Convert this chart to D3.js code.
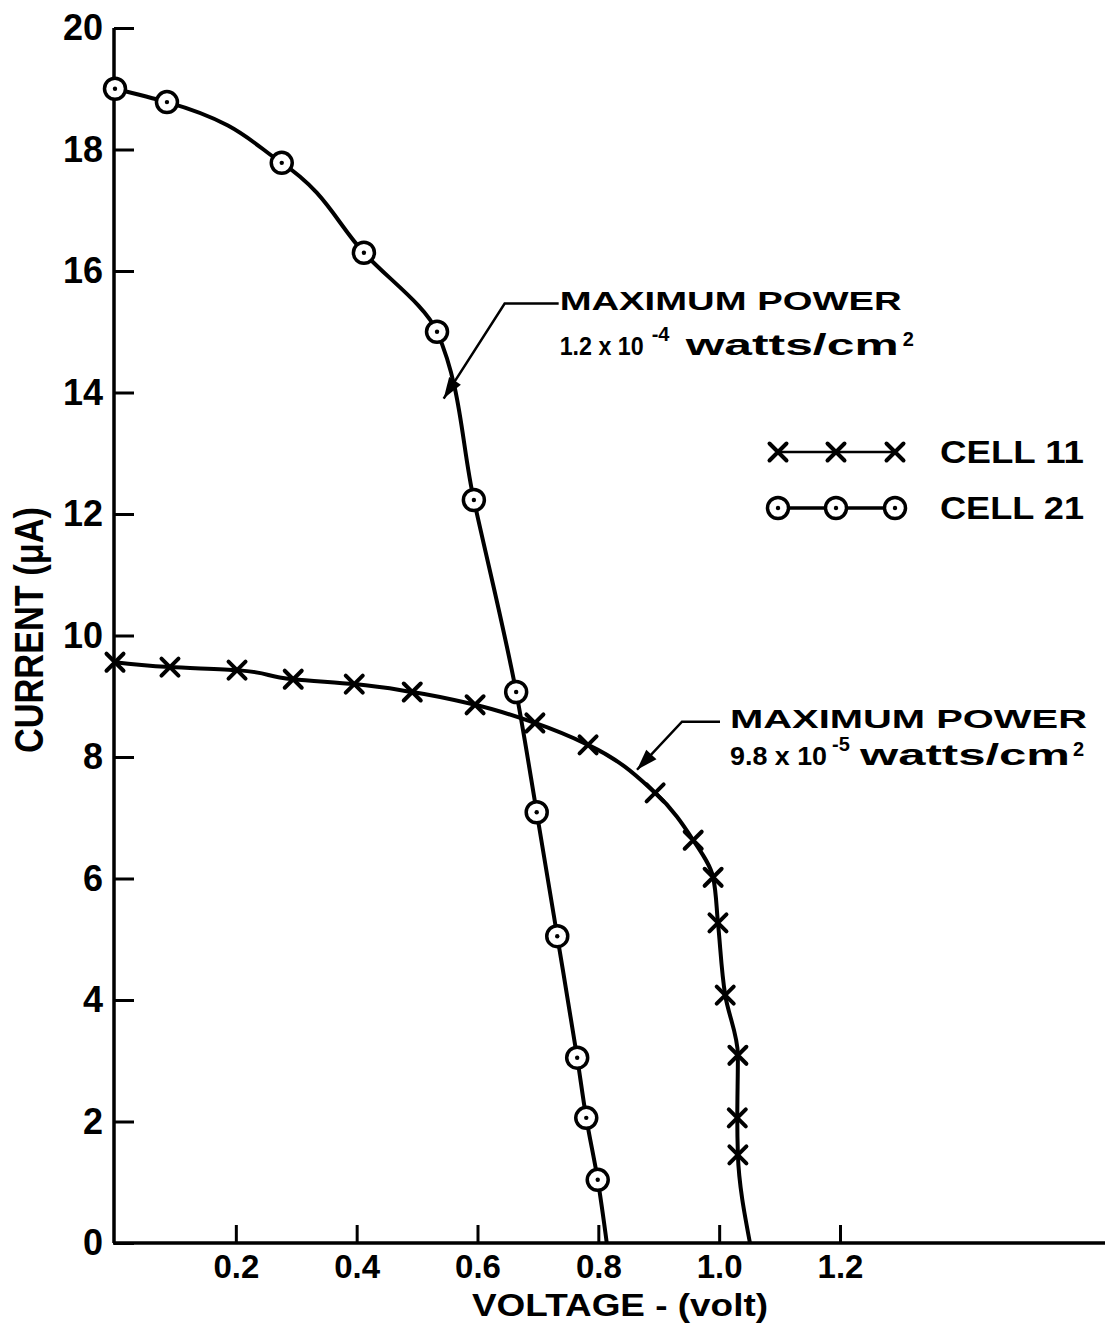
<!DOCTYPE html>
<html>
<head>
<meta charset="utf-8">
<script src="https://cdn.jsdelivr.net/npm/d3@7"></script>
<style>
  body { margin: 0; background: #fff; }
  text { font-family: "Liberation Sans", Arial, sans-serif; font-weight: bold; fill: #000; }
</style>
</head>
<body>
<svg id="chart" width="1105" height="1332"></svg>
<script>
(function() {
"use strict";

// ---- data ----
const voltageTicks = [0.2, 0.4, 0.6, 0.8, 1.0, 1.2];
const currentTicks = [0, 2, 4, 6, 8, 10, 12, 14, 16, 18, 20];

const cell11Volt = [0.0, 0.091, 0.202, 0.295, 0.396, 0.492, 0.596, 0.695, 0.783, 0.894, 0.957, 0.990, 0.998, 1.010, 1.031, 1.030, 1.031];
const cell11Amp  = [9.56, 9.48, 9.43, 9.28, 9.20, 9.07, 8.86, 8.56, 8.20, 7.41, 6.63, 6.02, 5.27, 4.08, 3.09, 2.06, 1.45];
const cell11Voc  = 1.051;   // where the curve meets the voltage axis

const cell21Volt = [0.0, 0.086, 0.276, 0.412, 0.533, 0.594, 0.664, 0.698, 0.732, 0.765, 0.780, 0.799];
const cell21Amp  = [19.0, 18.78, 17.78, 16.30, 15.0, 12.23, 9.07, 7.09, 5.05, 3.05, 2.06, 1.04];
const cell21Voc  = 0.814;

const legendLabels = ["CELL 11", "CELL 21"];

const notes = [
  { head: "MAXIMUM  POWER", base: "1.2 x 10", exp: "-4", unit: "watts/cm", unitExp: "2", atVolt: 0.544, atAmp: 13.9 },
  { head: "MAXIMUM  POWER", base: "9.8 x 10", exp: "-5", unit: "watts/cm", unitExp: "2", atVolt: 0.864, atAmp: 7.79 }
];

// ---- scales ----
const svg = d3.select("#chart");
const x = d3.scaleLinear().domain([0, 1.2]).range([115, 840]);
const y = d3.scaleLinear().domain([0, 20]).range([1243, 28]);

const pts = (vs, is) => vs.map((v, i) => [v, is[i]]);
const cell11 = pts(cell11Volt, cell11Amp);
const cell21 = pts(cell21Volt, cell21Amp);

// ---- axes ----
const xAxis = d3.axisBottom(x)
  .tickValues(voltageTicks)
  .tickSizeInner(-18).tickSizeOuter(0)
  .tickPadding(12)
  .tickFormat(d3.format(".1f"));

svg.append("g")
  .attr("transform", `translate(0,${y(0)})`)
  .call(xAxis)
  .call(g => g.select(".domain").remove())
  .call(g => g.selectAll(".tick line").attr("stroke-width", 3))
  .call(g => g.selectAll(".tick text").attr("font-size", 33).attr("font-family", null));

const yAxis = d3.axisLeft(y)
  .tickValues(currentTicks)
  .tickSizeInner(-20).tickSizeOuter(0)
  .tickPadding(11);

svg.append("g")
  .attr("transform", `translate(${x(0) - 1},0)`)
  .call(yAxis)
  .call(g => g.select(".domain").remove())
  .call(g => g.selectAll(".tick line").attr("stroke-width", 3))
  .call(g => g.selectAll(".tick text").attr("font-size", 36).attr("font-family", null));

// axis lines
svg.append("line")
  .attr("x1", x(0) - 2).attr("x2", 1105)
  .attr("y1", y(0)).attr("y2", y(0))
  .attr("stroke", "#000").attr("stroke-width", 3.5);
svg.append("line")
  .attr("x1", x(0) - 1).attr("x2", x(0) - 1)
  .attr("y1", y(20)).attr("y2", y(0))
  .attr("stroke", "#000").attr("stroke-width", 3.5);

// axis titles
svg.append("text")
  .attr("x", 620).attr("y", 1316)
  .attr("text-anchor", "middle")
  .attr("font-size", 32)
  .attr("textLength", 296).attr("lengthAdjust", "spacingAndGlyphs")
  .text("VOLTAGE - (volt)");

svg.append("text")
  .attr("transform", "translate(43,630) rotate(-90)")
  .attr("text-anchor", "middle")
  .attr("font-size", 40)
  .attr("textLength", 246).attr("lengthAdjust", "spacingAndGlyphs")
  .text("CURRENT (\u03BCA)");

// ---- curves ----
const line = d3.line()
  .x(d => x(d[0])).y(d => y(d[1]))
  .curve(d3.curveMonotoneY);

svg.append("path")
  .datum(cell11.concat([[cell11Voc, 0]]))
  .attr("d", line)
  .attr("fill", "none").attr("stroke", "#000").attr("stroke-width", 4);

svg.append("path")
  .datum(cell21.concat([[cell21Voc, 0]]))
  .attr("d", line)
  .attr("fill", "none").attr("stroke", "#000").attr("stroke-width", 4);

// ---- markers ----
const cross = (sel) => sel.append("path")
  .attr("d", "M-8.5,-8.5L8.5,8.5M-8.5,8.5L8.5,-8.5")
  .attr("stroke", "#000").attr("stroke-width", 4).attr("stroke-linecap", "round");

const ring = (sel) => {
  sel.append("circle").attr("r", 10.5)
    .attr("fill", "#fff").attr("stroke", "#000").attr("stroke-width", 3.5);
  sel.append("circle").attr("r", 2.2).attr("fill", "#000");
};

svg.append("g").selectAll("g")
  .data(cell11).enter().append("g")
  .attr("transform", d => `translate(${x(d[0])},${y(d[1])})`)
  .call(cross);

svg.append("g").selectAll("g")
  .data(cell21).enter().append("g")
  .attr("transform", d => `translate(${x(d[0])},${y(d[1])})`)
  .call(ring);

// ---- legend ----
const legend = svg.append("g");
legendLabels.forEach((label, i) => {
  const ly = 452 + i * 56;
  legend.append("line")
    .attr("x1", 778).attr("x2", 895).attr("y1", ly).attr("y2", ly)
    .attr("stroke", "#000").attr("stroke-width", i === 0 ? 2.5 : 3.5);
  [778, 836, 895].forEach(mx => {
    const m = legend.append("g").attr("transform", `translate(${mx},${ly})`);
    if (i === 0) m.call(cross); else m.call(ring);
  });
  legend.append("text")
    .attr("x", 940).attr("y", ly + 11)
    .attr("font-size", 31)
    .attr("textLength", 144).attr("lengthAdjust", "spacingAndGlyphs")
    .text(label);
});

// ---- annotations ----
svg.append("defs").append("marker")
  .attr("id", "arrow")
  .attr("viewBox", "0 -5 12 10")
  .attr("refX", 12).attr("refY", 0)
  .attr("markerWidth", 9).attr("markerHeight", 7)
  .attr("markerUnits", "strokeWidth")
  .attr("orient", "auto")
  .append("path").attr("d", "M0,-4L12,0L0,4Z").attr("fill", "#000");

// offsets in pixels from the arrow tip / text start
const noteLayout = [
  { elbow: [61, -95], end: [115, -95], textDx: 1,  gap: 45, headW: 342, baseSize: 25, baseW: 84, expX: 92,  unitX: 126, unitW: 213, sqX: 343 },
  { elbow: [45, -48], end: [83, -48],  textDx: 10, gap: 37, headW: 357, baseSize: 26, baseW: 97, expX: 102, unitX: 130, unitW: 210, sqX: 343 }
];

notes.forEach((n, i) => {
  const L = noteLayout[i];
  const tx = x(n.atVolt), ty = y(n.atAmp);
  const ex = tx + L.elbow[0], ey = ty + L.elbow[1];
  const hx = tx + L.end[0], hy = ty + L.end[1];

  svg.append("path")
    .attr("d", `M${hx},${hy}L${ex},${ey}L${tx},${ty}`)
    .attr("fill", "none").attr("stroke", "#000").attr("stroke-width", 2.5)
    .attr("marker-end", "url(#arrow)");

  const t0 = hx + L.textDx;
  svg.append("text")
    .attr("x", t0).attr("y", hy + 6)
    .attr("font-size", 26)
    .attr("textLength", L.headW).attr("lengthAdjust", "spacingAndGlyphs")
    .text(n.head);

  const by = hy + 6 + L.gap;
  svg.append("text")
    .attr("x", t0).attr("y", by)
    .attr("font-size", L.baseSize)
    .attr("textLength", L.baseW).attr("lengthAdjust", "spacingAndGlyphs")
    .text(n.base);
  svg.append("text")
    .attr("x", t0 + L.expX).attr("y", by - 14)
    .attr("font-size", 20)
    .text(n.exp);
  svg.append("text")
    .attr("x", t0 + L.unitX).attr("y", by)
    .attr("font-size", 29)
    .attr("textLength", L.unitW).attr("lengthAdjust", "spacingAndGlyphs")
    .text(n.unit);
  svg.append("text")
    .attr("x", t0 + L.sqX).attr("y", by - 9)
    .attr("font-size", 20)
    .text(n.unitExp);
});

})();
</script>
</body>
</html>
